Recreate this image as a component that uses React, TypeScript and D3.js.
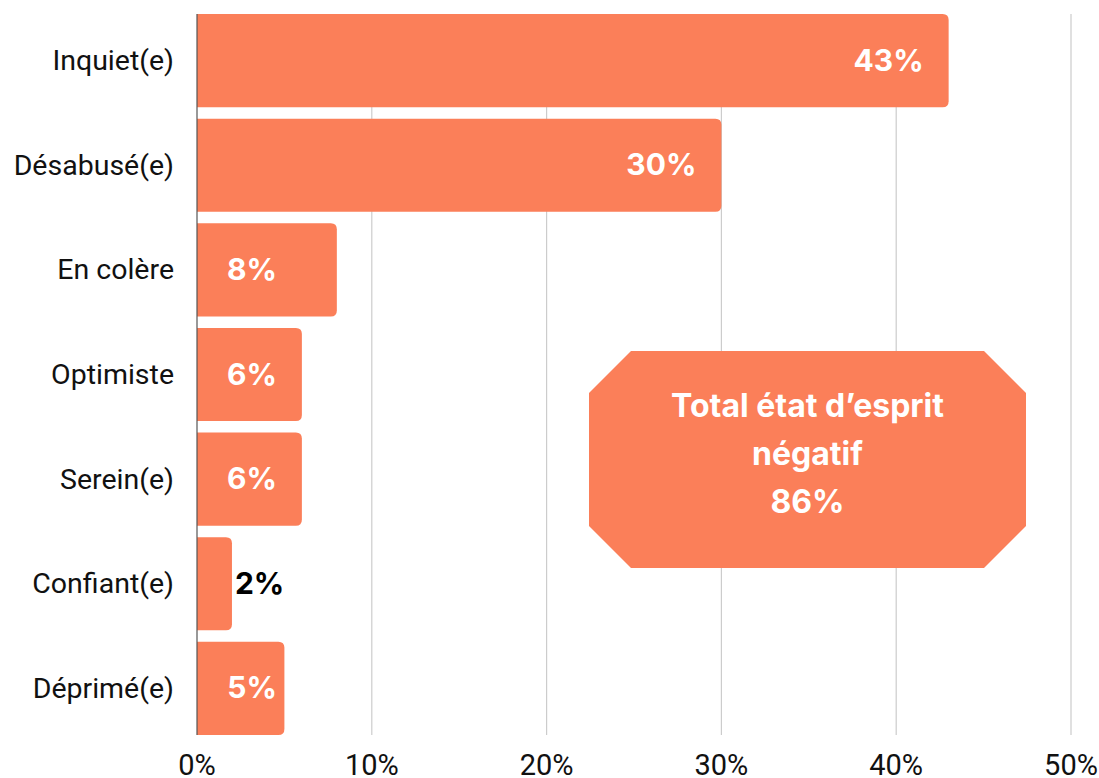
import { useEffect, useRef } from 'react';
import * as d3 from 'd3';

const categories = ['Inquiet(e)', 'Désabusé(e)', 'En colère', 'Optimiste', 'Serein(e)', 'Confiant(e)', 'Déprimé(e)'];
const values = [43, 30, 8, 6, 6, 2, 5];
const xTicks = [0, 10, 20, 30, 40, 50];
const calloutLines = ['Total état d’esprit', 'négatif', '86%'];

const WIDTH = 1099;
const HEIGHT = 778;
const BAR = '#FB7F59';
const LABEL_FONT = 'Roboto, "Noto Sans", sans-serif';
const VALUE_FONT = 'Inter, "Noto Sans", sans-serif';

export default function App() {
  const svgRef = useRef<SVGSVGElement>(null);

  useEffect(() => {
    if (!svgRef.current) return;
    const svg = d3.select(svgRef.current);
    svg.selectAll('*').remove();

    const left = 197;
    const right = 1071;
    const top = 14;
    const bottom = 735;

    const x = d3.scaleLinear().domain([0, 50]).range([left, right]);
    const y = d3.scaleBand<string>().domain(categories).range([top, bottom]).paddingInner(0.11).paddingOuter(0);

    // grid lines
    svg.append('g')
      .selectAll('line')
      .data(xTicks.filter((t) => t > 0))
      .join('line')
      .attr('x1', (d) => x(d))
      .attr('x2', (d) => x(d))
      .attr('y1', top)
      .attr('y2', bottom)
      .attr('stroke', '#cccccc')
      .attr('stroke-width', 1.2);

    // bars with rounded right end
    const r = 6;
    svg.append('g')
      .selectAll('path')
      .data(values)
      .join('path')
      .attr('fill', BAR)
      .attr('d', (v, i) => {
        const x0 = x(0);
        const x1 = x(v);
        const y0 = y(categories[i])!;
        const h = y.bandwidth();
        return `M${x0},${y0}H${x1 - r}Q${x1},${y0} ${x1},${y0 + r}V${y0 + h - r}Q${x1},${y0 + h} ${x1 - r},${y0 + h}H${x0}Z`;
      });

    // zero axis line
    svg.append('line')
      .attr('x1', x(0))
      .attr('x2', x(0))
      .attr('y1', top)
      .attr('y2', bottom)
      .attr('stroke', '#555')
      .attr('stroke-width', 1.2);

    // value labels
    svg.append('g')
      .selectAll('text')
      .data(values)
      .join('text')
      .attr('font-family', VALUE_FONT)
      .attr('font-weight', 700)
      .attr('font-size', 30)
      .attr('dominant-baseline', 'central')
      .attr('y', (_, i) => y(categories[i])! + y.bandwidth() / 2 - 1)
      .attr('x', (v) => {
        if (v < 4) return x(v) + 3;
        if (v < 10) return x(0) + 80;
        return x(v) - 25;
      })
      .attr('text-anchor', (v) => (v < 4 ? 'start' : 'end'))
      .attr('fill', (v) => (v < 4 ? '#000' : '#fff'))
      .text((v) => `${v}%`);

    // category labels
    svg.append('g')
      .selectAll('text')
      .data(categories)
      .join('text')
      .attr('font-family', LABEL_FONT)
      .attr('font-size', 28.5)
      .attr('fill', '#111')
      .attr('text-anchor', 'end')
      .attr('dominant-baseline', 'central')
      .attr('x', left - 23)
      .attr('y', (d) => y(d)! + y.bandwidth() / 2)
      .text((d) => d);

    // x tick labels
    svg.append('g')
      .selectAll('text')
      .data(xTicks)
      .join('text')
      .attr('font-family', LABEL_FONT)
      .attr('font-size', 29)
      .attr('fill', '#111')
      .attr('text-anchor', 'middle')
      .attr('x', (d) => x(d))
      .attr('y', 775)
      .text((d) => `${d}%`);

    // callout octagon
    const bx0 = 589;
    const bx1 = 1026;
    const by0 = 351;
    const by1 = 568;
    const c = 42;
    svg.append('path')
      .attr('fill', BAR)
      .attr('d', `M${bx0 + c},${by0}H${bx1 - c}L${bx1},${by0 + c}V${by1 - c}L${bx1 - c},${by1}H${bx0 + c}L${bx0},${by1 - c}V${by0 + c}Z`);

    svg.append('text')
      .attr('font-family', VALUE_FONT)
      .attr('font-weight', 700)
      .attr('font-size', 32)
      .attr('fill', '#fff')
      .attr('text-anchor', 'middle')
      .selectAll('tspan')
      .data(calloutLines)
      .join('tspan')
      .attr('x', (bx0 + bx1) / 2)
      .attr('y', (_, i) => 417 + i * 48)
      .text((d) => d);
  }, []);

  return (
    <svg
      ref={svgRef}
      width={WIDTH}
      height={HEIGHT}
      viewBox={`0 0 ${WIDTH} ${HEIGHT}`}
      style={{ position: 'absolute', left: 0, top: 0, display: 'block', background: '#fff' }}
    />
  );
}
